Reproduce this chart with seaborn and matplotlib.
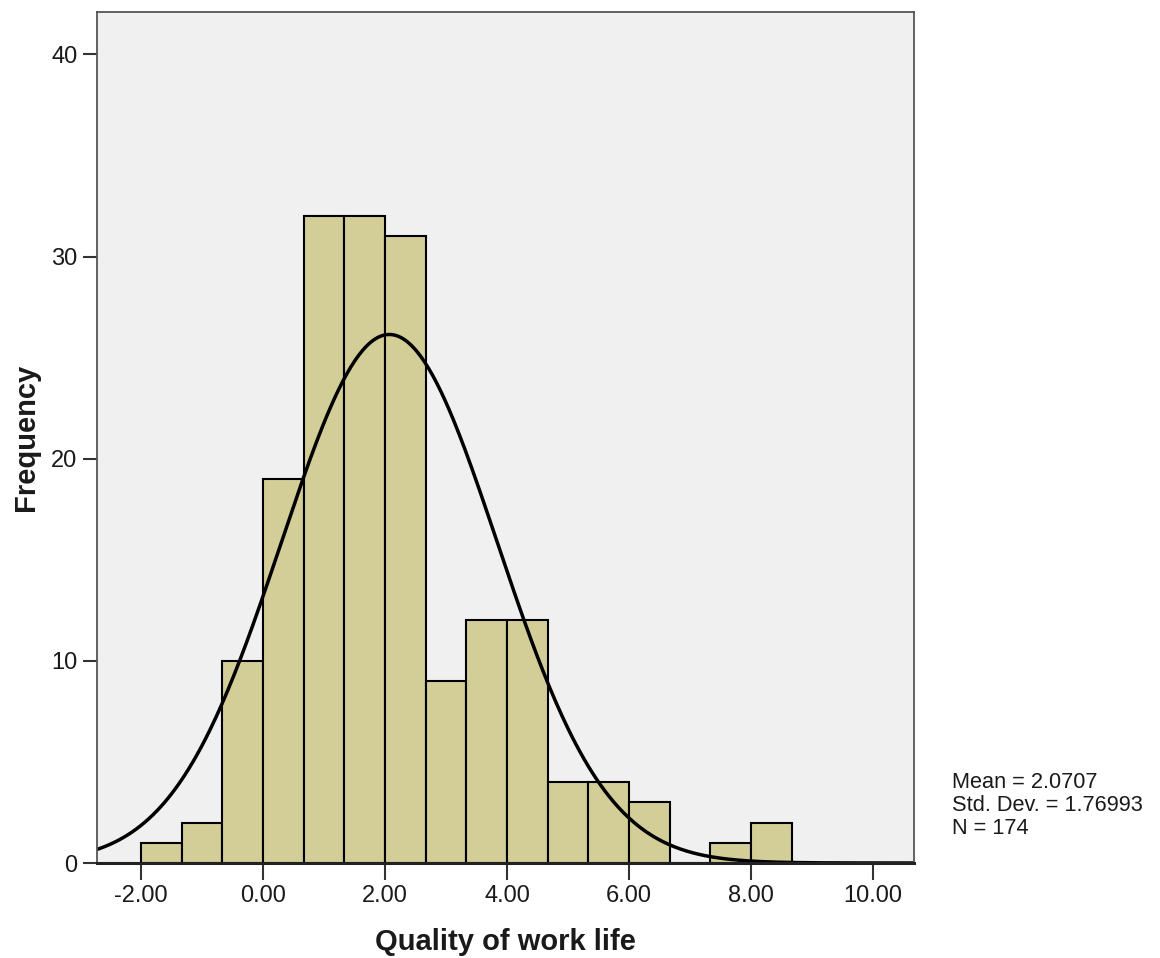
import numpy as np
import pandas as pd
import matplotlib
matplotlib.use("Agg")
import matplotlib.pyplot as plt
import seaborn as sns

# Data
bin_start = -2.0
bin_width = 2.0 / 3.0
counts = [1, 2, 10, 19, 32, 32, 31, 9, 12, 12, 4, 4, 3, 0, 1, 2]
mean_val = 2.0707
sd_val = 1.76993
n_val = 174
x_ticks = [-2, 0, 2, 4, 6, 8, 10]
x_tick_labels = ["-2.00", "0.00", "2.00", "4.00", "6.00", "8.00", "10.00"]
y_ticks = [0, 10, 20, 30, 40]

sns.set_theme(style="white")
plt.rcParams['font.family'] = ['Liberation Sans', 'DejaVu Sans']

edges = bin_start + bin_width * np.arange(len(counts) + 1)
centers = (edges[:-1] + edges[1:]) / 2
df = pd.DataFrame({"x": centers, "w": counts})

fig = plt.figure(figsize=(11.6, 9.58), dpi=100)
ax = fig.add_axes([97/1160, 1 - 863/958, (914 - 97)/1160, (863 - 12)/958])
ax.set_facecolor("#F0F0F0")

sns.histplot(data=df, x="x", weights="w", binwidth=bin_width,
             binrange=(float(edges[0]), float(edges[-1])), ax=ax,
             color="#D3CE97", edgecolor="black", linewidth=1.5, alpha=1.0)

xmin, xmax = -2.72, 10.67
xs = np.linspace(xmin, xmax, 400)
ys = n_val * bin_width / (sd_val * np.sqrt(2 * np.pi)) * np.exp(-0.5 * ((xs - mean_val) / sd_val) ** 2)
sns.lineplot(x=xs, y=ys, ax=ax, color="black", linewidth=2.5)

ax.set_xlim(xmin, xmax)
ax.set_ylim(0, 42.1)
ax.set_xticks(x_ticks)
ax.set_xticklabels(x_tick_labels)
ax.set_yticks(y_ticks)
ax.tick_params(axis="x", length=12, width=1.5, color="#333333", labelsize=17, labelcolor="#1a1a1a", pad=4, bottom=True)
ax.tick_params(axis="y", length=10, width=1.5, color="#333333", labelsize=17, labelcolor="#1a1a1a", pad=4, left=True)
for s in ax.spines.values():
    s.set_color("#555555")
    s.set_linewidth(1.3)
ax.spines["bottom"].set_color("#222222")
ax.spines["bottom"].set_linewidth(2.2)

ax.set_xlabel("Quality of work life", fontsize=21, fontweight="bold", labelpad=15, color="#1a1a1a")
ax.set_ylabel("Frequency", fontsize=21, fontweight="bold", labelpad=8, color="#1a1a1a")

fig.text(952/1160, 1 - 772/958,
         f"Mean = {mean_val}\nStd. Dev. = {sd_val}\nN = {n_val}",
         fontsize=15.7, va="top", ha="left", linespacing=1.12, color="#1a1a1a")

fig.savefig("out.png", dpi=100)
